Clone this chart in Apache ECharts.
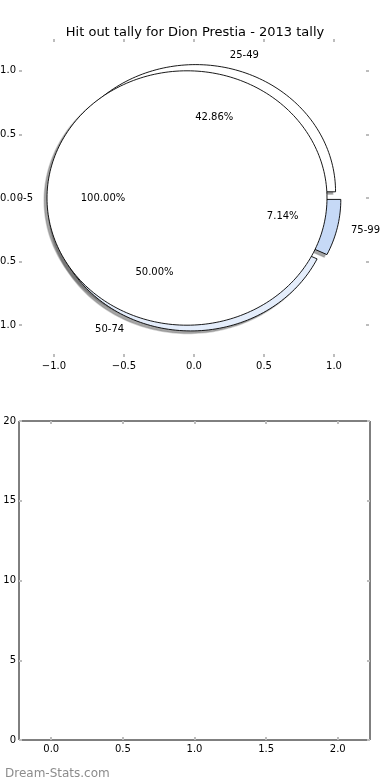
<!DOCTYPE html>
<html>
<head>
<meta charset="utf-8">
<script src="https://cdn.jsdelivr.net/npm/echarts@6/dist/echarts.min.js"></script>
<style>
html,body{margin:0;padding:0;background:#fff;}
#chart{width:390px;height:780px;}
</style>
</head>
<body>
<div id="chart"></div>
<script>
// ---- data ----
const chartTitle = 'Hit out tally for Dion Prestia - 2013 tally';
const pieCategories = ['25-49', '50-74', '75-99'];
const pieCounts = [6, 7, 1];
const pieColors = ['#ffffff', '#e4edfb', '#c6d9f6'];
const outerCategories = ['0-5'];
const outerCounts = [1];
const outerColors = ['#ffffff'];
const pieTicks = [-1, -0.5, 0, 0.5, 1];
const lowerXTicks = [0, 0.5, 1, 1.5, 2];
const lowerYTicks = [0, 5, 10, 15, 20];
const watermark = 'Dream-Stats.com';

// ---- helpers ----
const EXPLODE = 0.05, LABEL_DIST = 1.1, PCT_DIST = 0.6, SHADOW_OFF = -0.02;
const FONT = 'DejaVu Sans';
function buildWedges(labels, counts, colors) {
  const total = counts.reduce((a, b) => a + b, 0);
  let start = 0;
  return labels.map((lab, i) => {
    const frac = counts[i] / total;
    const end = start + frac * 360;
    const w = { label: lab, pct: (frac * 100).toFixed(2) + '%', start: start, end: end, mid: (start + end) / 2, color: colors[i], full: frac >= 0.9999 };
    start = end;
    return w;
  });
}
const pieWedges = buildWedges(pieCategories, pieCounts, pieColors);
const outerWedges = buildWedges(outerCategories, outerCounts, outerColors);
const allWedges = pieWedges.concat(outerWedges);
const rad = d => d * Math.PI / 180;

function wedgePoints(w, api, ox, oy) {
  const cx = EXPLODE * Math.cos(rad(w.mid)) + ox;
  const cy = EXPLODE * Math.sin(rad(w.mid)) + oy;
  const pts = [];
  const n = Math.max(8, Math.ceil((w.end - w.start) / 1.5));
  for (let k = 0; k <= n; k++) {
    const a = rad(w.start + (w.end - w.start) * k / n);
    pts.push(api.coord([cx + Math.cos(a), cy + Math.sin(a)]));
  }
  if (!w.full) pts.push(api.coord([cx, cy]));
  return pts;
}

function wedgeSeries(list, z) {
  return {
    type: 'custom', xAxisIndex: 0, yAxisIndex: 0, z: z, silent: true, clip: false,
    data: list.map((w, i) => [w.start, w.end]),
    renderItem: function (params, api) {
      const w = list[params.dataIndex];
      return { type: 'polygon', shape: { points: wedgePoints(w, api, 0, 0) },
        style: { fill: w.color, stroke: '#000', lineWidth: 0.9 } };
    }
  };
}

const shadowSeries = {
  type: 'custom', xAxisIndex: 0, yAxisIndex: 0, z: 1, silent: true, clip: false,
  data: allWedges.map(w => [w.start, w.end]),
  renderItem: function (params, api) {
    const w = allWedges[params.dataIndex];
    return { type: 'polygon', shape: { points: wedgePoints(w, api, SHADOW_OFF, SHADOW_OFF) },
      style: { fill: 'rgba(77,77,77,0.5)', stroke: 'rgba(120,120,120,0.35)', lineWidth: 1.5 } };
  }
};

const labelSeries = {
  type: 'custom', xAxisIndex: 0, yAxisIndex: 0, z: 5, silent: true, clip: false,
  data: allWedges.map(w => [w.mid, 0]),
  renderItem: function (params, api) {
    const w = allWedges[params.dataIndex];
    const c = Math.cos(rad(w.mid)), s = Math.sin(rad(w.mid));
    const lx = (EXPLODE + LABEL_DIST) * c, ly = (EXPLODE + LABEL_DIST) * s;
    const px = (EXPLODE + PCT_DIST) * c, py = (EXPLODE + PCT_DIST) * s;
    const lp = api.coord([lx, ly]), pp = api.coord([px, py]);
    return { type: 'group', children: [
      { type: 'text', x: lp[0], y: lp[1], style: { text: w.label, fill: '#000', font: '10px "' + FONT + '"', align: lx > 0 ? 'left' : 'right', verticalAlign: 'middle' } },
      { type: 'text', x: pp[0], y: pp[1], style: { text: w.pct, fill: '#000', font: '10px "' + FONT + '"', align: 'center', verticalAlign: 'middle' } }
    ] };
  }
};

const fmt = v => (v < 0 ? '\u2212' : '') + Math.abs(v).toFixed(1);
const tickStyle = { show: true, inside: true, length: 3, lineStyle: { color: '#bdbdbd', width: 2 } };
const labelStyle = { color: '#000', fontFamily: FONT, fontSize: 10 };

function valAxis(opts) {
  return Object.assign({
    type: 'value', axisLine: { show: false, onZero: false }, splitLine: { show: false }
  }, opts);
}

const option = {
  animation: false,
  backgroundColor: '#fff',
  title: [
    { text: chartTitle, left: 'center', top: 21, textStyle: { fontFamily: FONT, fontSize: 13, fontWeight: 'normal', color: '#000' } },
    { text: watermark, left: 0, top: 763, textStyle: { fontFamily: FONT, fontSize: 12, fontWeight: 'normal', color: '#8c8c8c' } }
  ],
  grid: [
    { left: 19, right: 21, top: 39, height: 318, outerBoundsMode: 'none', containLabel: false },
    { left: 19, right: 20, top: 421, height: 319, show: true, borderColor: '#000', borderWidth: 1, backgroundColor: 'transparent', outerBoundsMode: 'none', containLabel: false }
  ],
  xAxis: [
    valAxis({ gridIndex: 0, position: 'bottom', min: -1.25, max: 1.25,
      axisTick: Object.assign({ customValues: pieTicks }, tickStyle),
      axisLabel: Object.assign({ customValues: pieTicks, formatter: fmt, margin: 4 }, labelStyle) }),
    valAxis({ gridIndex: 0, position: 'top', min: -1.25, max: 1.25,
      axisTick: Object.assign({ customValues: pieTicks }, tickStyle), axisLabel: { show: false } }),
    valAxis({ gridIndex: 1, position: 'bottom', min: -0.225, max: 2.225,
      axisTick: Object.assign({ customValues: lowerXTicks }, tickStyle),
      axisLabel: Object.assign({ customValues: lowerXTicks, formatter: fmt, margin: 4 }, labelStyle) }),
    valAxis({ gridIndex: 1, position: 'top', min: -0.225, max: 2.225,
      axisTick: Object.assign({ customValues: lowerXTicks }, tickStyle), axisLabel: { show: false } })
  ],
  yAxis: [
    valAxis({ gridIndex: 0, position: 'left', min: -1.25, max: 1.25,
      axisTick: Object.assign({ customValues: pieTicks }, tickStyle),
      axisLabel: Object.assign({ customValues: pieTicks, formatter: fmt, margin: 3 }, labelStyle) }),
    valAxis({ gridIndex: 0, position: 'right', min: -1.25, max: 1.25,
      axisTick: Object.assign({ customValues: pieTicks }, tickStyle), axisLabel: { show: false } }),
    valAxis({ gridIndex: 1, position: 'left', min: 0, max: 20, interval: 5,
      axisTick: Object.assign({ customValues: lowerYTicks }, tickStyle),
      axisLabel: Object.assign({ customValues: lowerYTicks, margin: 3 }, labelStyle) }),
    valAxis({ gridIndex: 1, position: 'right', min: 0, max: 20, interval: 5,
      axisTick: Object.assign({ customValues: lowerYTicks }, tickStyle), axisLabel: { show: false } })
  ],
  series: [
    shadowSeries,
    wedgeSeries(pieWedges, 2),
    wedgeSeries(outerWedges, 3),
    labelSeries,
    { type: 'scatter', xAxisIndex: 2, yAxisIndex: 2, data: [] }
  ]
};

const chart = echarts.init(document.getElementById('chart'), null, { renderer: 'canvas' });
chart.setOption(option);
</script>
</body>
</html>
